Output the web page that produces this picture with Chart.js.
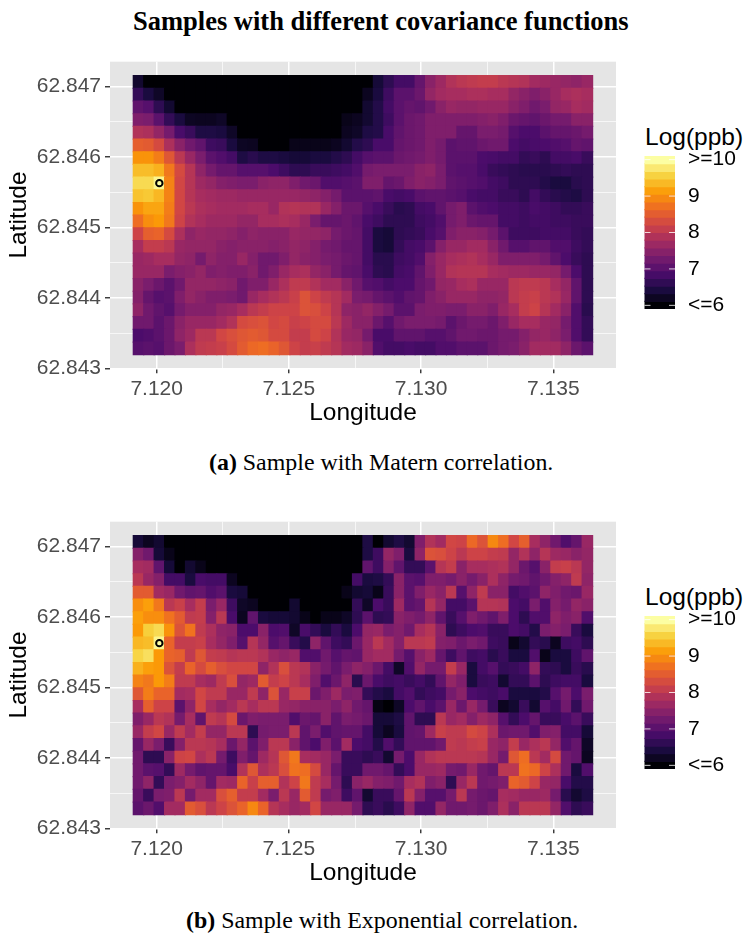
<!DOCTYPE html>
<html>
<head>
<meta charset="utf-8">
<title>Samples with different covariance functions</title>
<script src="https://cdn.jsdelivr.net/npm/chart.js@4"></script>
<style>
  html, body { margin: 0; padding: 0; background: #FFFFFF; }
  body { position: relative; width: 746px; height: 937px; overflow: hidden; }
  canvas { position: absolute; }
  .label { position: absolute; white-space: nowrap; line-height: 1; color: #000000; }
  .serif { font-family: "Liberation Serif", serif; }
  .sans { font-family: "Liberation Sans", sans-serif; }
</style>
</head>
<body>
<div class="label serif" style="left:133px; top:8px; font-size:26.5px; font-weight:bold;">Samples with different covariance functions</div>
<div class="label serif" style="left:209px; top:451px; font-size:23.9px;"><b>(a)</b> Sample with Matern correlation.</div>
<div class="label serif" style="left:186px; top:909px; font-size:23.9px;"><b>(b)</b> Sample with Exponential correlation.</div>
<div class="label sans" style="left:645px; top:125px; font-size:24.5px;">Log(ppb)</div>
<div class="label sans" style="left:645px; top:585px; font-size:24.5px;">Log(ppb)</div>

<canvas id="maternChart" style="left:0; top:50px;" width="630" height="380"></canvas>
<canvas id="exponentialChart" style="left:0; top:510px;" width="630" height="380"></canvas>
<canvas id="maternLegend" style="left:640px; top:150px;" width="106" height="165"></canvas>
<canvas id="exponentialLegend" style="left:640px; top:610px;" width="106" height="165"></canvas>

<script>
// --- Data ---
const cellLons = [7.119312, 7.119707, 7.120102, 7.120496, 7.120891, 7.121286, 7.121681, 7.122076, 7.122471, 7.122865, 7.12326,
  7.123655, 7.12405, 7.124445, 7.124839, 7.125234, 7.125629, 7.126024, 7.126419, 7.126814, 7.127208, 7.127603,
  7.127998, 7.128393, 7.128788, 7.129183, 7.129577, 7.129972, 7.130367, 7.130762, 7.131157, 7.131551, 7.131946,
  7.132341, 7.132736, 7.133131, 7.133526, 7.13392, 7.134315, 7.13471, 7.135105, 7.1355, 7.135894, 7.136289];

// row edges, north to south
const cellLatEdges = [62.847157, 62.846977, 62.846797, 62.846616, 62.846436, 62.846256, 62.846076, 62.845896,
  62.845716, 62.845535, 62.845355, 62.845175, 62.844995, 62.844815, 62.844635, 62.844454, 62.844274,
  62.844094, 62.843914, 62.843734, 62.843554, 62.843373, 62.843193];

const maternSample = [
  [6.3,6,6,6,6,6,6,6,6,6,6,6,6,6,6,6,6,6,6,6,6,6, 6,6.37,6.62,6.82,6.82,7.15,7.5,7.7,7.9,8,8.05,8.1,8.1,8,7.95,7.9,7.75,7.7,7.65,7.6,7.55,7.65],
  [6.67,6.42,6.25,6,6,6,6,6,6,6,6,6,6,6,6,6,6,6,6,6,6,6, 6.2,6.42,6.77,7.05,7.05,7.2,7.6,7.75,7.8,7.8,7.85,7.85,7.8,7.8,7.6,7.5,7.4,7.5,7.65,7.8,7.85,7.8],
  [7.1,7,6.62,6.32,6,6,6,6,6,6,6,6,6,6,6,6,6,6,6,6,6,6, 6.32,6.52,6.82,7.05,7.15,7.1,7.25,7.5,7.65,7.6,7.6,7.65,7.65,7.65,7.5,7.4,7.25,7.35,7.6,7.65,7.8,7.75],
  [7.4,7.35,7.05,6.67,6.42,6.22,6.2,6.2,6.25,6,6,6,6,6,6,6,6,6,6,6,6.15,6.2, 6.32,6.52,6.77,7.05,7.2,7.25,7.4,7.4,7.4,7.4,7.4,7.45,7.5,7.4,7.2,7.15,7.1,7.2,7.3,7.3,7.5,7.5],
  [7.9,7.85,7.6,7.3,6.87,6.72,6.47,6.47,6.42,6.25,6,6,6,6,6,6,6,6,6,6,6.2,6.25, 6.47,6.52,6.87,7.1,7.2,7.25,7.4,7.4,7.4,7.15,7.15,7.35,7.35,7.3,7,6.9,6.9,7.05,7.15,7.15,7.2,7.3],
  [8.55,8.5,8.3,7.85,7.5,7.25,7.1,6.77,6.72,6.42,6.22,6.2,6,6,6,6.15,6.15,6.15,6.15,6.2,6.32,6.52, 6.62,6.87,6.87,7.15,7.2,7.25,7.4,7.3,7.05,7.1,7.1,7.2,7.25,7.25,6.9,6.82,6.87,6.9,6.95,7,7.15,7.1],
  [9.05,9.05,8.85,8.45,8,7.65,7.35,7.05,6.95,6.82,6.47,6.57,6.47,6.47,6.42,6.37,6.37,6.42,6.42,6.52,6.62,6.82, 7,7.05,7.05,7.2,7.25,7.3,7.4,7.3,7.05,7.05,7.05,6.9,6.87,6.82,6.82,6.67,6.72,6.62,6.82,6.82,6.87,6.72],
  [9.4,9.4,9.3,8.8,8.3,7.95,7.55,7.3,7.15,7.15,7,7,7,6.9,6.77,6.62,6.62,6.72,6.72,6.77,6.82,6.95, 7.3,7.35,7.35,7.35,7.35,7.5,7.55,7.35,7.05,7,7,6.87,6.72,6.67,6.62,6.57,6.57,6.57,6.62,6.67,6.62,6.62],
  [9.65,9.65,9.9,8.9,8.25,7.95,7.7,7.6,7.45,7.4,7.35,7.35,7.5,7.55,7.55,7.4,7.25,7.2,6.95,6.95,7,7.05, 7.4,7.4,7.15,7.2,7.4,7.5,7.45,7.35,7.1,7.05,7,6.95,6.82,6.77,6.62,6.62,6.62,6.52,6.42,6.42,6.57,6.62],
  [9.45,9.5,9.35,8.9,8.25,7.95,7.8,7.75,7.7,7.7,7.65,7.65,7.65,7.65,7.65,7.65,7.6,7.55,7.45,7.3,7.05,7.05, 7.05,7.1,6.87,6.82,6.87,7.05,7.1,7.1,7.05,7,6.87,6.82,6.82,6.72,6.72,6.62,6.82,6.67,6.57,6.52,6.47,6.62],
  [9.05,9.2,9.2,8.85,8.25,8,7.85,7.8,7.75,7.75,7.75,7.8,7.8,7.65,7.9,7.95,7.9,7.9,7.65,7.45,7.2,7.2, 7,6.87,6.72,6.57,6.62,6.82,6.87,7.1,7.3,7.4,7.05,6.95,6.9,6.82,6.82,6.77,6.87,6.82,6.77,6.67,6.67,6.72],
  [8.7,9,9.1,8.8,8.2,7.9,7.8,7.7,7.7,7.7,7.6,7.6,7.8,7.8,7.85,7.8,7.65,7.35,7.15,7.15,7.2,7.1, 6.87,6.77,6.62,6.62,6.62,6.77,6.82,6.95,7.3,7.4,7.2,7.15,7.15,6.82,6.82,6.77,6.82,6.82,6.77,6.77,6.72,6.72],
  [8.2,8.55,8.6,8.3,7.85,7.55,7.65,7.6,7.6,7.55,7.45,7.55,7.5,7.5,7.5,7.65,7.6,7.6,7.55,7.3,7.2,7.15, 6.82,6.42,6.37,6.62,6.67,6.72,6.87,7,7.4,7.5,7.5,7.45,7.3,7.05,6.77,6.77,6.77,6.82,6.82,6.82,6.72,6.67],
  [7.8,8.1,8.1,8,7.65,7.6,7.6,7.6,7.5,7.45,7.5,7.5,7.5,7.45,7.5,7.6,7.55,7.45,7.3,7.25,7.15,7.15, 6.82,6.42,6.37,6.67,6.82,6.87,7.05,7.45,7.65,7.65,7.75,7.75,7.5,7.25,7,7,7.1,7.1,6.95,6.95,6.77,6.67],
  [7.65,7.7,7.8,7.8,7.6,7.55,7.3,7.55,7.45,7.45,7.65,7.45,7.25,7.25,7.4,7.6,7.5,7.45,7.35,7.3,7.2,7.15, 6.82,6.57,6.57,6.77,6.82,6.95,7.45,7.65,7.8,7.85,7.9,7.8,7.65,7.4,7.4,7.4,7.4,7.3,7.1,6.9,6.72,6.62],
  [7.65,7.65,7.65,7.35,7.45,7.5,7.6,7.4,7.45,7.4,7.4,7.5,7.25,7.4,7.65,7.8,7.85,7.6,7.5,7.3,7.15,7.1, 6.87,6.62,6.57,6.82,6.87,7.1,7.4,7.65,7.9,7.95,7.95,7.95,7.8,7.75,7.7,7.7,7.65,7.65,7.6,7.3,6.9,6.62],
  [7.5,7.35,7.2,7.05,7.25,7.6,7.6,7.6,7.55,7.5,7.25,7.4,7.4,7.65,7.85,8.05,8.05,7.9,7.75,7.75,7.5,7.25, 7,6.95,6.82,6.9,6.9,7.15,7.25,7.6,7.65,7.8,7.85,7.65,7.65,7.65,8,8.05,8.05,8,7.8,7.6,7.1,6.62],
  [7.45,7.15,7,7.05,7.4,7.6,7.5,7.4,7.4,7.35,7.25,7.65,7.8,7.9,8,8.15,8.4,8.2,8.05,7.95,7.75,7.35, 7.3,7.15,7.05,6.95,7.1,7.15,7.4,7.5,7.65,7.65,7.65,7.55,7.55,7.6,8,8.1,8.15,8,7.9,7.65,7.1,6.62],
  [7.55,7.25,7.1,7,7.3,7.45,7.45,7.45,7.6,7.65,7.8,8,8.1,8.2,8.2,8.2,8.4,8.35,8.2,7.95,7.55,7.5, 7.6,7.45,7.3,7.05,7.05,7.35,7.4,7.4,7.35,7.35,7.5,7.5,7.4,7.65,7.8,8.1,8.2,7.95,7.75,7.5,6.95,6.57],
  [7.25,7.25,7.05,7.2,7.5,7.65,7.65,7.65,7.75,7.9,8.3,8.35,8.4,8.25,8.3,8.15,8.2,8.3,8.3,8,7.7,7.5, 7.5,7.2,7,7.25,7.35,7.35,7.35,7.3,7.05,7.2,7.3,7.3,7.2,7.4,7.65,7.8,7.8,7.65,7.6,7.3,6.95,6.67],
  [6.9,6.95,7.05,7.2,7.55,7.7,8,8,8.25,8.35,8.45,8.5,8.45,8.3,8.3,8.1,8.1,8.3,8.2,7.9,7.65,7.6, 7.3,6.87,6.87,7.1,7.1,7.1,7,7,7.1,7.25,7.25,7.2,7.2,7.3,7.3,7.45,7.6,7.65,7.55,7.35,6.95,6.67],
  [7,7.05,7,7.2,7.35,7.85,8.05,8.1,8.15,8.3,8.5,8.65,8.7,8.6,8.45,8.2,8.1,8.15,8.05,7.95,7.75,7.7, 7.5,6.95,6.82,6.82,6.87,6.82,6.82,6.95,6.95,7.05,7.05,7.05,7.2,7.3,7.35,7.5,7.75,7.75,7.75,7.55,7.2,7.05]
];

const exponentialSample = [
  [6.37,6.2,6.32,6,6,6,6,6,6,6,6,6,6,6,6,6,6,6,6,6,6,6, 6.47,6,6.32,6.47,6.32,7.4,7.9,7.75,8.25,8.2,8.65,8.4,8.95,8.7,8.25,8.55,7.8,7.55,7.25,6.95,7.15,7.65],
  [7.45,7.25,6.37,6.15,6,6,6,6,6,6,6,6,6,6,6,6,6,6,6,6,6,6, 6.47,6.77,7.6,7.4,6.42,7.55,8.4,8.35,8.2,8,8.2,8.2,8.1,8.05,7.6,7.9,7.55,7.95,7.7,7.65,7.5,7.6],
  [7.8,7.75,7.1,6.37,6,6.32,6.15,6,6,6,6,6,6,6,6,6,6,6,6,6,6,6, 7.1,6.77,7.45,7.1,6.67,6.67,7.05,7.95,8.1,7.5,7.8,7.8,7.85,7.9,7.6,7.2,7,7.5,8.1,8.15,8,7.6],
  [8,7.65,7.45,6.82,6.82,6.42,6.87,6.82,6.82,6.2,6,6,6,6,6,6,6,6,6,6,6,6.82, 6.42,6.47,6.67,7.5,7.05,7,7.4,7.4,7.3,7.5,7.3,7.5,7.85,7.55,7.3,7.25,7.1,7.25,7.45,7.55,8.05,7.55],
  [8.5,8.5,7.75,7.65,7.25,7.1,7.15,6.95,7.05,6.42,6.37,6,6,6,6,6,6,6,6,6,6.15,6.32, 6.37,6.15,6.72,7.5,7.05,7.4,7.65,7.5,8,7,7.55,8.05,7.5,7.5,6.82,6.95,7.05,7.55,7.4,7.25,7.2,7.65],
  [9,9.15,8.8,8,8.15,7.8,8.1,7.35,7.65,6.77,6.25,6.2,6,6,6,6.32,6,6,6,6,6,6.67, 6.25,6.9,6.72,7.7,7.05,7.15,7.95,7.6,6.82,6.82,7.05,7.95,7.95,7.9,6.9,6.82,7.35,6.95,7.45,7.3,7.6,7.5],
  [9.15,9,9,8.75,8.5,8.05,8.1,7.45,8,6.87,6.2,7.1,6.42,6.37,6.37,6.32,6.15,6,6.15,6.15,6.25,6.62, 7.05,6.62,6.67,7.5,7.4,7.3,7.55,7.1,6.72,7,7.4,7.25,7.1,7.4,6.9,6.62,6.95,6.95,7.55,7.4,7.5,6.95],
  [9.1,9.55,9.65,9.05,8.4,8.75,8.05,7.85,7.55,7.5,6.9,6.9,7.5,6.9,6.95,6.25,6.87,6.67,6.42,6.67,6.42,6.9, 7.6,7.65,7.35,7.45,7.25,7.8,7.95,7.5,6.62,6.77,6.9,6.95,6.72,6.72,6.9,6.82,6.52,7.35,7.45,7.35,6.72,6.42],
  [9.35,9.4,9.9,8.6,8.1,8.1,8.15,7.8,7.6,7.4,7,7.95,7.6,7,7.15,6.72,6.52,7.55,7.1,6.77,6.67,7.2, 7.65,8,7.75,7.45,8,8,8.05,7.45,7.4,7.2,7.35,7.25,6.77,6.72,6.15,6.32,6.67,6.57,6.2,6.77,6.82,6.62],
  [9.6,9.7,9.1,8.6,8.55,8.05,8.45,8.1,8.05,7.95,8,8,7.9,7.65,7.55,7.65,6.95,6.95,7.25,7,7.15,7.1, 7.65,7.75,7.75,7.3,7,7.5,7.7,7.15,6.77,7.1,6.77,6.82,6.57,6.72,6.42,6.42,6.95,6.15,6.42,6.42,6.77,7.1],
  [9.3,9.15,9.1,8.4,8.1,8.6,8.3,8.55,8.35,8.25,8.25,8.25,7.55,7.9,8.35,8,7.9,7.5,7.3,7.1,7.35,7.55, 7.45,7.2,6.82,6.25,6.95,7.6,7.3,7.3,8.1,7.65,6.42,6.82,7,6.67,6.72,6.82,7.55,6.67,6.62,6.42,6.72,6.57],
  [8.9,8.8,9.1,8.85,8.05,8.05,7.8,7.7,8.05,8.35,7.6,7.7,8.5,8.1,8.2,8,7.8,7.4,6.95,7.2,7.55,6.57, 7.2,6.87,6.77,6.82,6.72,6.82,6.67,7.1,7.6,7.4,6.42,6.72,6.77,6.32,6.67,6.67,7.05,6.62,6.77,6.82,6.82,6.42],
  [8.45,8.85,8.6,8.6,7.75,7.8,8.25,8.05,8.05,7.65,7.65,8.05,7.55,8.4,7.65,8.15,8.15,7.2,7.4,7.7,7.35,7.4, 6.67,6.52,6.42,6.82,6.95,6.67,6.77,6.82,7.3,7.5,6.9,6.82,6.77,6.87,6.42,6.42,6.42,6.52,7,7.3,6.9,7.35],
  [7.8,8.55,8.2,8.2,7.05,7.55,8.25,7.8,7.6,7.75,8,7.8,8,8,7.65,7.6,7.5,7.5,7.5,7.35,7.55,7.25, 7.15,6.1,6,6.25,6.9,7.1,6.87,7.05,7.65,7.2,7.65,7.3,6.72,6.2,6.32,6.72,6.32,7,6.82,7.25,6.67,7.25],
  [7.4,7.65,8,7.9,7.3,7.8,7.1,8.05,7.95,8.3,7.2,7.4,7.35,7.35,7.35,6.95,7.2,7.15,7.5,7.1,7.35,7.3, 7.2,6.37,6.37,6.47,7.1,6.62,6.62,8,7.65,7.75,7.45,7.7,7.55,7,6.67,6.9,7.15,6.72,6.72,6.87,7.05,6.72],
  [7.65,8.1,8.25,7.65,8.05,7.75,8.1,7.6,7.6,8,8,6.62,7.3,7.35,7.35,8,7.1,7.35,6.95,7.1,7.15,7.15, 6.82,6.37,6.2,6.42,7.1,7.15,7.7,8.15,8.05,8.05,8.3,8.2,7.85,7.2,7.25,7.25,6.95,7.4,7.45,6.82,6.82,6.37],
  [7.15,7.65,7.35,6.72,7.45,8,8,7.95,7.8,7.2,7.6,7.05,7.4,8,8,7.5,7.1,6.9,7.4,7.05,7.75,6.9, 6.82,6.52,6.95,6.67,7.1,7.1,7.1,7.25,8.05,8,8.1,8.15,7.65,7.55,8.1,7.65,7.85,8,7.6,6.95,7.15,6.25],
  [7.25,6.62,6.62,7.5,8.2,8.25,7.85,8,7.3,6.77,7.4,7.15,7.7,7.95,8.45,8.8,7.8,7.75,7.65,7.35,6.72,6.72, 6.62,6.72,6.32,7.3,6.9,7.65,7.9,8,8,8,8,7.95,7.65,7.3,8.45,8.7,8,7.75,8.3,7.25,7.15,6.2],
  [7.25,7.05,7,6.67,7.7,7.3,7.1,7.15,7.15,6.87,7.9,8.45,7.85,8,8.35,8.75,8.7,8.3,7.65,7.15,6.72,6.72, 7.25,7.25,7.15,6.67,6.9,7.65,7.65,7.7,7.3,7.25,7.65,7.25,7.15,8,8,8.75,8.65,8.2,7.85,7.25,6.42,6.95],
  [7.25,7.55,6.67,7.35,7.45,7.75,7.55,7.15,7.75,7.7,8.6,8.15,8.55,8.55,7.9,8.2,8.8,8.05,7.8,7.3,6.62,7.5, 7.65,7.45,7.4,7.25,7.8,7.9,7.4,7.5,6.62,7.65,8,7.25,7.3,7.4,8.6,8.5,8.2,7.65,7.6,6.87,6.52,6.52],
  [7.15,6.72,7.35,7.4,8,7.3,7.75,7.75,8.35,8.55,8.1,8.1,7.75,7.35,8,7.65,8.5,8.05,7.3,7.4,6.77,7.1, 6.32,6.72,6.72,7.15,8,7.45,7,7,7.3,8,7.3,7.2,7.15,7.8,7.75,7.65,7.65,7.7,7.3,6.57,6.32,6.47],
  [7.05,7.2,6.95,7.75,7.75,8.5,8.35,8,8.2,8.4,8.6,8.95,8.6,7.95,7.8,7.65,7.75,8.25,7.65,7.65,7.65,7.3, 6.62,6.72,6.57,6.77,7.55,6.95,6.95,7.6,7.25,7.25,7.3,7.2,7.4,7.85,7.5,8,8,8,7.6,6.95,6.62,6.72]
];

const markerLon = [7.1201];
const markerLat = [62.84563];

const lonTicks = [7.12, 7.1225, 7.125, 7.1275, 7.13, 7.1325, 7.135];
const lonLabels = ['7.120', '', '7.125', '', '7.130', '', '7.135'];
const latTicks = [62.843, 62.8435, 62.844, 62.8445, 62.845, 62.8455, 62.846, 62.8465, 62.847];
const latLabels = ['62.843', '', '62.844', '', '62.845', '', '62.846', '', '62.847'];

const legendEdges = [5.9, 6.11, 6.32, 6.53, 6.74, 6.95, 7.16, 7.37, 7.58, 7.79, 8, 8.21, 8.42, 8.63, 8.84, 9.05, 9.26, 9.47, 9.68, 9.89, 10.1];
const legendTicks = [6, 7, 8, 9, 10];
const legendLabels = ['<=6', '7', '8', '9', '>=10'];

// --- Colour scale (inferno, 6 to 10) ---
const infernoStops = ['#000004', '#1B0C42', '#4B0C6B', '#781C6D', '#A52C60', '#CF4446', '#ED6925', '#FB9A06', '#F7D03C', '#FCFFA4'];

const hexToRgb = (hex) => [1, 3, 5].map(i => parseInt(hex.slice(i, i + 2), 16));

const colorFor = (value) => {
  const t = Math.min(Math.max((value - 6) / 4, 0), 1) * (infernoStops.length - 1);
  const i = Math.min(Math.floor(t), infernoStops.length - 2);
  const a = hexToRgb(infernoStops[i]);
  const b = hexToRgb(infernoStops[i + 1]);
  const mix = a.map((c, k) => Math.round(c + (b[k] - c) * (t - i)));
  return `rgb(${mix[0]}, ${mix[1]}, ${mix[2]})`;
};

// --- Plugins ---
const panelBackground = {
  id: 'panelBackground',
  beforeDraw: (chart) => {
    const { ctx, chartArea: a } = chart;
    ctx.save();
    ctx.fillStyle = '#E5E5E5';
    ctx.fillRect(a.left, a.top, a.right - a.left, a.bottom - a.top);
    ctx.restore();
  }
};

const colorbarTicks = {
  id: 'colorbarTicks',
  afterDatasetsDraw: (chart) => {
    const { ctx, chartArea: a, scales } = chart;
    ctx.save();
    ctx.strokeStyle = '#FFFFFF';
    ctx.lineWidth = 0.8;
    legendTicks.forEach(v => {
      const y = scales.y.getPixelForValue(v);
      ctx.beginPath();
      ctx.moveTo(a.left, y);
      ctx.lineTo(a.left + 6, y);
      ctx.moveTo(a.right - 6, y);
      ctx.lineTo(a.right, y);
      ctx.stroke();
    });
    ctx.restore();
  }
};

// --- Render Functions ---
const isMajor = (labels, index) => labels[index] !== '';

// the label overflow padding would push the plot area away from the fixed layout
const clearScalePadding = (scale) => {
  scale.paddingTop = 0;
  scale.paddingBottom = 0;
  scale.paddingLeft = 0;
  scale.paddingRight = 0;
};

const buildCells = (sample) => {
  const cells = [];
  sample.forEach((row, r) => {
    row.forEach((value, c) => {
      cells.push({ x: cellLons[c], y: [cellLatEdges[r + 1], cellLatEdges[r]], value });
    });
  });
  return cells;
};

const renderMap = (canvasId, sample) => {
  new Chart(document.getElementById(canvasId), {
    type: 'bar',
    data: {
      datasets: [
        {
          type: 'scatter',
          order: 0,
          data: [{ x: markerLon[0], y: markerLat[0] }],
          pointRadius: 3.2,
          pointBorderWidth: 2,
          pointBorderColor: '#000000',
          pointBackgroundColor: '#FCFFA4'
        },
        {
          order: 1,
          data: buildCells(sample),
          backgroundColor: (c) => colorFor(c.raw.value),
          borderWidth: 0,
          inflateAmount: 0.6, // overlap neighbours so no grey seams show between cells
          barPercentage: 1,
          categoryPercentage: 1
        }
      ]
    },
    plugins: [panelBackground],
    options: {
      responsive: false,
      animation: false,
      events: [],
      layout: { padding: { left: 0, top: 11.7, right: 14, bottom: 0 } },
      plugins: { legend: { display: false }, tooltip: { enabled: false } },
      scales: {
        x: {
          type: 'linear',
          offset: false,
          min: 7.118234,
          max: 7.137371,
          afterBuildTicks: (scale) => { scale.ticks = lonTicks.map(value => ({ value })); },
          afterFit: (scale) => { scale.height = 61.7; clearScalePadding(scale); },
          border: { display: false },
          grid: {
            offset: false,
            color: '#FFFFFF',
            lineWidth: (c) => (isMajor(lonLabels, c.index) ? 1.5 : 0.7),
            tickColor: (c) => (isMajor(lonLabels, c.index) ? '#333333' : 'rgba(0,0,0,0)'),
            tickWidth: 1.4,
            tickLength: 5
          },
          ticks: {
            autoSkip: false,
            maxRotation: 0,
            padding: 3,
            color: '#4D4D4D',
            font: { family: 'Liberation Sans', size: 21 },
            callback: (value, index) => lonLabels[index]
          },
          title: {
            display: true,
            text: 'Longitude',
            color: '#000000',
            font: { family: 'Liberation Sans', size: 24.5 },
            padding: { top: 0, bottom: 2 }
          }
        },
        y: {
          type: 'linear',
          min: 62.843,
          max: 62.847355,
          afterBuildTicks: (scale) => { scale.ticks = latTicks.map(value => ({ value })); },
          afterFit: (scale) => { scale.width = 110; clearScalePadding(scale); },
          border: { display: false },
          grid: {
            color: '#FFFFFF',
            lineWidth: (c) => (isMajor(latLabels, c.index) ? 1.5 : 0.7),
            tickColor: (c) => (isMajor(latLabels, c.index) ? '#333333' : 'rgba(0,0,0,0)'),
            tickWidth: 1.4,
            tickLength: 5
          },
          ticks: {
            autoSkip: false,
            padding: 4,
            color: '#4D4D4D',
            font: { family: 'Liberation Sans', size: 21 },
            callback: (value, index) => latLabels[index]
          },
          title: {
            display: true,
            text: 'Latitude',
            color: '#000000',
            font: { family: 'Liberation Sans', size: 24.5 },
            padding: { top: 5, bottom: 0 }
          }
        }
      }
    }
  });
};

const renderLegend = (canvasId) => {
  const bins = legendEdges.slice(0, -1).map((edge, i) => ({
    x: 0,
    y: [edge, legendEdges[i + 1]],
    value: (edge + legendEdges[i + 1]) / 2
  }));
  new Chart(document.getElementById(canvasId), {
    type: 'bar',
    data: {
      datasets: [{
        data: bins,
        backgroundColor: (c) => colorFor(c.raw.value),
        borderWidth: 0,
        inflateAmount: 0.6,
        barPercentage: 1,
        categoryPercentage: 1
      }]
    },
    plugins: [colorbarTicks],
    options: {
      responsive: false,
      animation: false,
      events: [],
      layout: { padding: { left: 4.5, top: 6, right: 0, bottom: 6 } },
      plugins: { legend: { display: false }, tooltip: { enabled: false } },
      scales: {
        x: { type: 'linear', offset: false, min: -0.5, max: 0.5, display: false },
        y: {
          type: 'linear',
          position: 'right',
          min: 5.9,
          max: 10.1,
          afterBuildTicks: (scale) => { scale.ticks = legendTicks.map(value => ({ value })); },
          afterFit: (scale) => { scale.width = 71; clearScalePadding(scale); },
          border: { display: false },
          grid: { display: false, drawTicks: false },
          ticks: {
            autoSkip: false,
            padding: 13,
            color: '#000000',
            font: { family: 'Liberation Sans', size: 21 },
            callback: (value, index) => legendLabels[index]
          }
        }
      }
    }
  });
};

renderMap('maternChart', maternSample);
renderMap('exponentialChart', exponentialSample);
renderLegend('maternLegend');
renderLegend('exponentialLegend');
</script>
</body>
</html>
